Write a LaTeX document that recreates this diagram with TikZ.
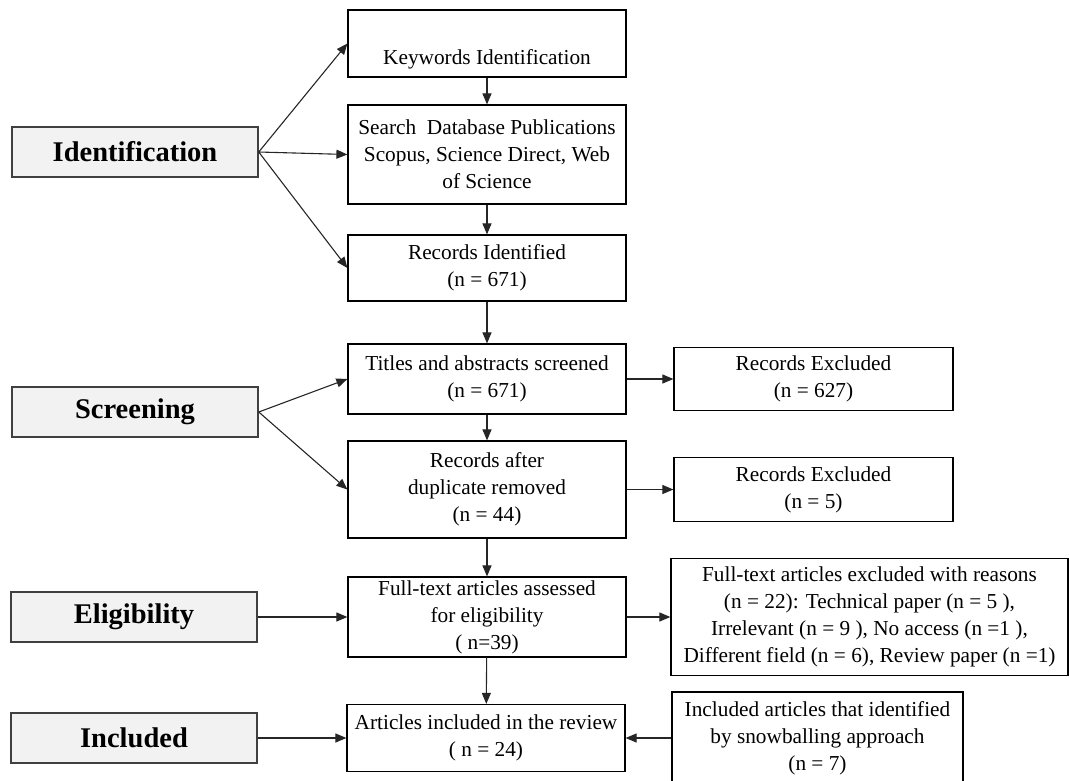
\documentclass[tikz,border=0pt]{standalone}
\usepackage{fontspec}
\setmainfont{Liberation Serif}
\usetikzlibrary{arrows.meta}
\definecolor{stagefill}{HTML}{F2F2F2}
\definecolor{stageline}{HTML}{404040}
\tikzset{
  stage/.style={draw=stageline, line width=1.5pt, fill=stagefill,
    minimum width=246pt, minimum height=50pt, inner sep=0pt,
    font=\fontsize{28.5}{34}\selectfont\bfseries},
  box/.style={draw=black, line width=1.2pt, fill=white, inner sep=0pt,
    align=center, font=\fontsize{21.3}{27}\selectfont},
  arr/.style={-{Triangle[length=11pt,width=9pt]}, line width=1.1pt, draw=black!85},
}

\begin{document}
\begin{tikzpicture}[x=1pt,y=-1pt]
  \useasboundingbox (0,0) rectangle (1069,780);
  \clip (0,0) rectangle (1069,780);

  \node[stage] (ident) at (135,152) {Identification};
  \node[stage] (screen) at (135,412) {Screening};
  \node[stage] (elig) at (134,617) {Eligibility};
  \node[stage] (inclst) at (134,738) {Included};

  \node[box, minimum width=278pt, minimum height=67pt] (keyw) at (487,43.5)
    {\strut\\Keywords Identification};
  \node[box, minimum width=278pt, minimum height=99pt] (search) at (487,154.5)
    {Search\ \ Database Publications\\Scopus, Science Direct, Web\\of Science};
  \node[box, minimum width=278pt, minimum height=66pt] (recid) at (487,268)
    {Records Identified\\(n = 671)};
  \node[box, minimum width=278pt, minimum height=70pt] (titles) at (487,379)
    {Titles and abstracts screened\\(n = 671)};
  \node[box, minimum width=278pt, minimum height=97pt] (dupl) at (487,489.5)
    {Records after\\duplicate removed\\(n = 44)};
  \node[box, minimum width=278pt, minimum height=80pt] (fulltxt) at (487,617)
    {Full-text articles assessed\\for eligibility\\( n=39)};
  \node[box, minimum width=278pt, minimum height=67pt] (incl) at (486,738)
    {Articles included in the review\\( n = 24)};

  \node[box, minimum width=279pt, minimum height=63pt] (excl1) at (813.5,379)
    {Records Excluded\\(n = 627)};
  \node[box, minimum width=279pt, minimum height=64pt] (excl2) at (813.5,489.5)
    {Records Excluded\\(n = 5)};
  \node[box, minimum width=397pt, minimum height=117pt] (exclft) at (869.5,617)
    {Full-text articles excluded with reasons\\(n = 22): Technical paper (n = 5 ),\\Irrelevant (n = 9 ), No access (n =1 ),\\Different field (n = 6), Review paper (n =1)};
  \node[box, minimum width=291pt, minimum height=92pt] (snow) at (817.5,738)
    {Included articles that identified\\by snowballing approach\\(n = 7)};

  \draw[arr] (ident.east) -- (keyw.west);
  \draw[arr] (ident.east) -- (search.west);
  \draw[arr] (ident.east) -- (recid.west);
  \draw[arr] (screen.east) -- (titles.west);
  \draw[arr] (screen.east) -- (dupl.west);
  \draw[arr] (elig.east) -- (fulltxt.west);
  \draw[arr] (inclst.east) -- (incl.west);

  \draw[arr] (keyw) -- (search);
  \draw[arr] (search) -- (recid);
  \draw[arr] (recid) -- (titles);
  \draw[arr] (titles) -- (dupl);
  \draw[arr] (dupl) -- (fulltxt);
  \draw[arr] (fulltxt) -- (incl);

  \draw[arr] (titles.east) -- (excl1.west);
  \draw[arr] (dupl.east) -- (excl2.west);
  \draw[arr] (fulltxt.east) -- (exclft.west);
  \draw[arr] (snow.west) -- (incl.east);
\end{tikzpicture}
\end{document}
